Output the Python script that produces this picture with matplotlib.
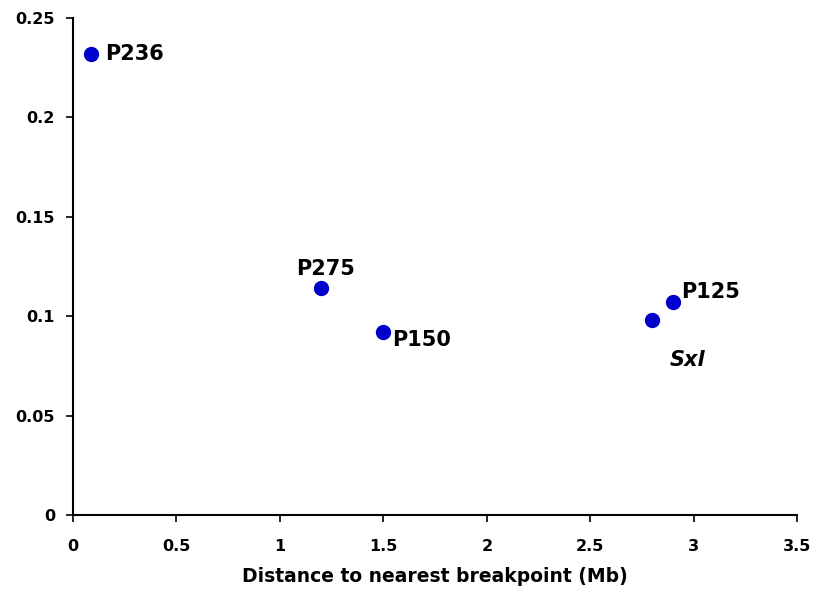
import matplotlib.pyplot as plt

# distance to nearest breakpoint (Mb) and value per locus
names = ["P236", "P275", "P150", "Sxl", "P125"]
dist = [0.087, 1.2, 1.5, 2.8, 2.9]
vals = [0.232, 0.114, 0.092, 0.098, 0.107]

# label offsets in points: (dx, dy, ha, va, style)
offsets = {
    "P236": (10, 0, "left", "center", "normal"),
    "P275": (3, 7, "center", "bottom", "normal"),
    "P150": (6, -6, "left", "center", "normal"),
    "Sxl": (25, -29, "center", "center", "italic"),
    "P125": (6, 7, "left", "center", "normal"),
}

plt.rcParams["font.family"] = ["DejaVu Sans"]
plt.rcParams["font.weight"] = "bold"

fig = plt.figure(figsize=(8.16, 5.94), dpi=100)
ax = fig.add_axes([0.0895, 0.133, 0.8875, 0.837])

ax.plot(dist, vals, "o", color="#0000CC", markersize=10, zorder=3)

for n, x, y in zip(names, dist, vals):
    dx, dy, ha, va, st = offsets[n]
    ax.annotate(n, (x, y), xytext=(dx, dy), textcoords="offset points",
                ha=ha, va=va, fontsize=15, fontweight="bold", style=st)

ax.set_xlim(0, 3.5)
ax.set_ylim(0, 0.25)
ax.set_xticks([0, 0.5, 1, 1.5, 2, 2.5, 3, 3.5])
ax.set_xticklabels(["0", "0.5", "1", "1.5", "2", "2.5", "3", "3.5"])
ax.set_yticks([0, 0.05, 0.1, 0.15, 0.2, 0.25])
ax.set_yticklabels(["0", "0.05", "0.1", "0.15", "0.2", "0.25"])
ax.set_xlabel("Distance to nearest breakpoint (Mb)", fontsize=13.5, fontweight="bold", labelpad=10)

for s in ["top", "right"]:
    ax.spines[s].set_visible(False)
for s in ["left", "bottom"]:
    ax.spines[s].set_linewidth(1.5)
ax.tick_params(direction="out", length=5, width=1.2, labelsize=11.5)
ax.tick_params(axis="x", pad=12)
ax.tick_params(axis="y", pad=8)

fig.savefig("out.png", dpi=100)
